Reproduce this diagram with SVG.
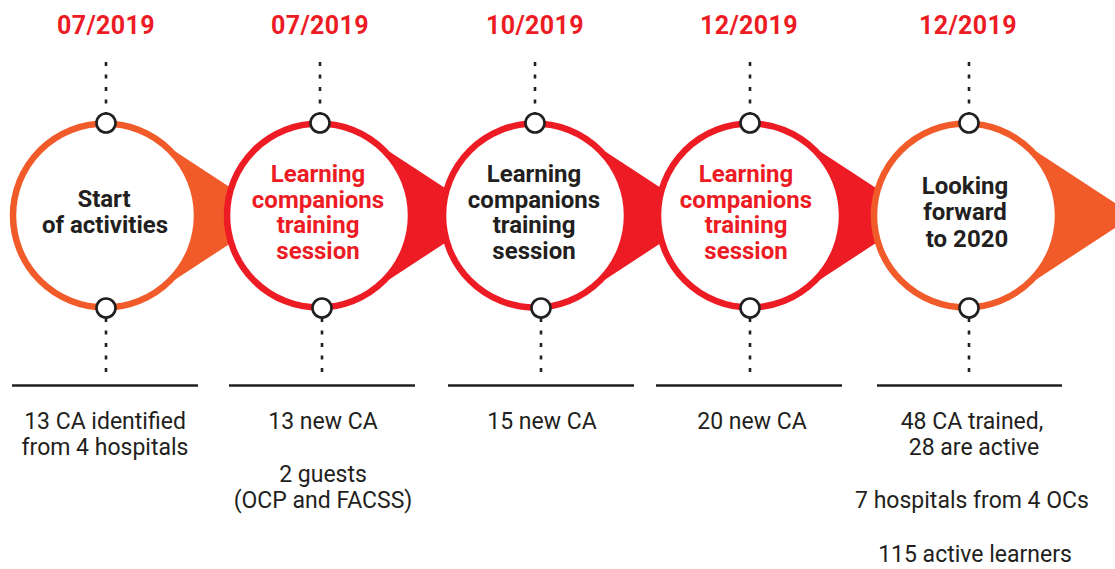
<svg xmlns="http://www.w3.org/2000/svg" width="1115" height="569" viewBox="0 0 1115 569">
<style>
.bg{fill:#fff}
.date{font-family:Roboto,"Liberation Sans",sans-serif;font-weight:700;font-size:25px;letter-spacing:0.4px;fill:#ED1C24;text-anchor:middle}
.ct{font-family:Roboto,"Liberation Sans",sans-serif;font-weight:700;font-size:24px;text-anchor:middle}
.dk{fill:#231F20}
.rd{fill:#ED1C24}
.bt{font-family:Roboto,"Liberation Sans",sans-serif;font-weight:400;font-size:23px;fill:#231F20;text-anchor:middle}
.ringO{fill:#fff;stroke:#F15A29;stroke-width:6.5}
.ringR{fill:#fff;stroke:#ED1C24;stroke-width:6.5}
.tailO{fill:#F15A29}
.tailR{fill:#ED1C24}
.dot{stroke:#231F20;stroke-width:2.6;stroke-dasharray:4 8.5;fill:none}
.knob{fill:#fff;stroke:#231F20;stroke-width:2.6}
.rule{stroke:#231F20;stroke-width:2.6}
</style>
<rect class="bg" x="0" y="0" width="1115" height="569"/>
<g id="connectors">
<line class="dot" x1="106" y1="62" x2="106" y2="114"/>
<line class="dot" x1="106" y1="372" x2="106" y2="318"/>
<line class="dot" x1="320" y1="62" x2="320" y2="114"/>
<line class="dot" x1="322" y1="372" x2="322" y2="318"/>
<line class="dot" x1="535" y1="62" x2="535" y2="114"/>
<line class="dot" x1="541" y1="372" x2="541" y2="318"/>
<line class="dot" x1="750" y1="62" x2="750" y2="114"/>
<line class="dot" x1="750" y1="372" x2="750" y2="318"/>
<line class="dot" x1="969" y1="62" x2="969" y2="114"/>
<line class="dot" x1="969" y1="372" x2="969" y2="318"/>
</g>
<g id="node1">
<polygon class="tailO" points="155.4,138.5 273,215.5 155.4,292.5"/>
<circle class="ringO" cx="105" cy="215.5" r="92"/>
<text class="ct dk"><tspan x="104" y="207">Start</tspan><tspan x="105" y="233">of activities</tspan></text>
</g>
<g id="node2">
<polygon class="tailR" points="369.4,138.5 487,215.5 369.4,292.5"/>
<circle class="ringR" cx="319" cy="215.5" r="92"/>
<text class="ct rd"><tspan x="318" y="182">Learning</tspan><tspan x="318" y="207.5">companions</tspan><tspan x="318" y="233">training</tspan><tspan x="318" y="259">session</tspan></text>
</g>
<g id="node3">
<polygon class="tailR" points="585.4,138.5 703,215.5 585.4,292.5"/>
<circle class="ringR" cx="535" cy="215.5" r="92"/>
<text class="ct dk"><tspan x="534" y="182">Learning</tspan><tspan x="534" y="207.5">companions</tspan><tspan x="534" y="233">training</tspan><tspan x="534" y="259">session</tspan></text>
</g>
<g id="node4">
<polygon class="tailR" points="800.4,138.5 918,215.5 800.4,292.5"/>
<circle class="ringR" cx="750" cy="215.5" r="92"/>
<text class="ct rd"><tspan x="746" y="182">Learning</tspan><tspan x="746" y="207.5">companions</tspan><tspan x="746" y="233">training</tspan><tspan x="746" y="259">session</tspan></text>
</g>
<g id="node5">
<polygon class="tailO" points="1016.4,138.5 1134,215.5 1016.4,292.5"/>
<circle class="ringO" cx="966" cy="215.5" r="92"/>
<text class="ct dk"><tspan x="965" y="194">Looking</tspan><tspan x="965" y="220">forward</tspan><tspan x="967" y="246.5">to 2020</tspan></text>
</g>
<g id="knobs">
<circle class="knob" cx="106" cy="123" r="9.5"/>
<circle class="knob" cx="106" cy="308" r="9.5"/>
<circle class="knob" cx="320" cy="123" r="9.5"/>
<circle class="knob" cx="322" cy="308" r="9.5"/>
<circle class="knob" cx="535" cy="123" r="9.5"/>
<circle class="knob" cx="541" cy="308" r="9.5"/>
<circle class="knob" cx="750" cy="123" r="9.5"/>
<circle class="knob" cx="750" cy="308" r="9.5"/>
<circle class="knob" cx="969" cy="123" r="9.5"/>
<circle class="knob" cx="969" cy="308" r="9.5"/>
</g>
<g id="dates">
<text class="date" x="106" y="34">07/2019</text>
<text class="date" x="320" y="34">07/2019</text>
<text class="date" x="535" y="34">10/2019</text>
<text class="date" x="749" y="34">12/2019</text>
<text class="date" x="968" y="34">12/2019</text>
</g>
<g id="details">
<line class="rule" x1="12" y1="385.5" x2="198" y2="385.5"/>
<line class="rule" x1="229" y1="385.5" x2="415" y2="385.5"/>
<line class="rule" x1="448" y1="385.5" x2="634" y2="385.5"/>
<line class="rule" x1="656" y1="385.5" x2="842" y2="385.5"/>
<line class="rule" x1="877" y1="385.5" x2="1062" y2="385.5"/>
<text class="bt"><tspan x="105" y="429">13 CA identified</tspan><tspan x="105" y="455">from 4 hospitals</tspan></text>
<text class="bt"><tspan x="323" y="429">13 new CA</tspan><tspan x="323" y="482">2 guests</tspan><tspan x="323" y="508">(OCP and FACSS)</tspan></text>
<text class="bt" x="542" y="429">15 new CA</text>
<text class="bt" x="752" y="429">20 new CA</text>
<text class="bt"><tspan x="972" y="429">48 CA trained,</tspan><tspan x="974" y="455">28 are active</tspan><tspan x="972" y="508">7 hospitals from 4 OCs</tspan><tspan x="975" y="562">115 active learners</tspan></text>
</g>
</svg>
